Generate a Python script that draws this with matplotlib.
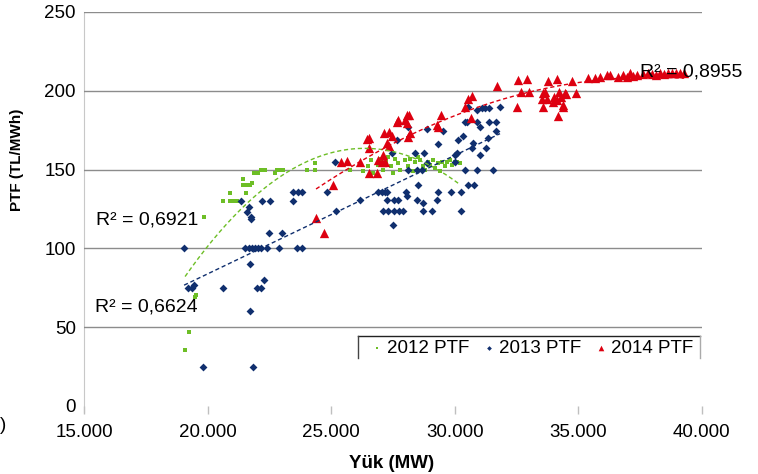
import numpy as np
import matplotlib
matplotlib.use("Agg")
import matplotlib.pyplot as plt
from matplotlib.lines import Line2D

plt.rcParams['font.family'] = ['Liberation Sans', 'DejaVu Sans']

# 2012 PTF (Yuk MW, PTF TL/MWh)
x_2012 = [19085, 19250, 19490, 19530, 19854, 20620, 20905, 20905, 21030, 21190,
          21430, 21430, 21590, 21715, 21800, 21550, 21880, 22040, 22160, 22320,
          22730, 22800, 22930, 23050, 24020, 24340, 24340, 25760,
          26300, 26500, 26600, 26700, 26900, 27000, 27100, 27200, 27400, 27500,
          27600, 27700, 27800, 28000, 28100, 28200, 28300, 28400, 28600, 28700,
          28800, 28900, 29000, 29100, 29200, 29300, 29500, 29600, 29700, 29800,
          29900, 30000, 30100, 30200, 27300, 28500, 29400]
y_2012 = [35.5, 47, 69, 70.5, 120, 130, 135, 130, 130, 130,
          144, 140, 140, 140, 141.5, 135, 148, 148, 150, 150,
          148, 150, 150, 150, 150, 154, 150, 150,
          149, 152, 156, 148, 153, 157, 150, 155, 152, 148,
          157, 154, 150, 156, 152, 157, 149, 155, 156, 152,
          150, 155, 153, 156, 151, 154, 155, 152, 155, 156,
          153, 155, 155, 154, 158, 158, 149]

# 2013 PTF
x_2013 = [19045, 19205, 19370, 19450, 19815, 20620, 21350, 21595, 21675, 21755,
          21755, 21510, 21675, 21795, 21915, 22040, 22160, 21715, 21715, 21835,
          22000, 22160, 22280, 22200, 22525, 22485, 22400, 22890, 23010, 23615,
          23820, 23455, 23655, 23820, 23455, 24830, 25150, 25190, 26165, 26890,
          27055, 27175, 27255, 27255, 27540, 27700, 27095, 27300, 27540, 27740,
          27905, 27500, 27460, 27660, 28105, 28025, 28065, 28105, 28470, 28670,
          28390, 28755, 28470, 28710, 28510, 28710, 29080, 28875, 28875, 29280,
          29320, 29320, 29520, 29845, 30250, 30005, 30090, 30005, 30250, 30130,
          30330, 30410, 30490, 30410, 30535, 30780, 30700, 30740, 30900, 30900,
          31100, 31220, 31380, 30535, 31020, 31020, 31260, 31340, 31380, 31545,
          31665, 31665, 31830, 30900]
y_2013 = [100, 75, 75, 77, 25, 75, 130, 123, 126, 120,
          118.6, 100, 100, 100, 100, 100, 100, 90, 60, 25,
          75, 75, 80, 130, 130, 110, 100, 100, 110, 100,
          100, 136, 136, 136, 130, 136, 155, 124, 131, 136,
          136, 136, 136, 131, 131, 131, 124, 124, 124, 124,
          124, 115, 160.5, 169, 177, 136, 133, 150, 150, 150,
          160.5, 160.5, 131, 129, 140, 124, 124, 154, 176, 131,
          136, 166, 174.5, 136, 136, 159, 160.5, 155, 124, 169,
          171, 180, 180, 150, 140, 140, 164, 167, 150, 188,
          189, 189, 189, 190, 159, 177, 164, 170, 180, 150,
          180, 174.5, 190, 180]

# 2014 PTF
x_2014 = [24385, 24710, 25070, 25395, 25640, 26165, 26450, 26530, 26530, 26530,
          26850, 26890, 27055, 27175, 27095, 27135, 27340, 27460, 27255, 27340,
          27660, 27700, 27985, 28065, 28145, 28065, 28185, 28105, 29280, 29320,
          29440, 30410, 30655, 30535, 30700, 31705, 32555, 32920, 32680, 33000,
          32515, 33650, 33525, 33730, 33565, 33770, 34130, 34740, 34010, 34295,
          34500, 34900, 33970, 34130, 34375, 34375, 34175, 33565, 34215, 34455,
          35390, 35670, 35870, 36155, 36300, 36600, 36800, 36965, 37100, 37210,
          37370, 37610, 37800, 37970, 38140, 38300, 38460, 38630, 38800, 38950,
          39110, 39270]
y_2014 = [119, 110, 140, 155, 155.5, 155, 169.5, 170, 164, 148,
          148, 156, 155, 155, 159, 173, 174, 171, 167, 165,
          180, 181.5, 181.5, 184.6, 184.6, 179.5, 173, 170.7, 178, 177,
          184.6, 190, 183, 195, 197, 203, 207, 207.5, 199, 199,
          190, 199, 195, 195, 190, 206, 207.5, 206, 196, 196,
          198, 198.6, 193, 194, 191, 190, 184, 198.6, 199, 198.6,
          208, 208, 209, 210, 210, 209, 210, 209, 211, 209.4,
          210, 210.6, 211, 210.6, 210, 211, 210.5, 211.5, 211, 211.5,
          211, 211.5]

r2_labels = ['R² = 0,6921', 'R² = 0,6624', 'R² = 0,8955']
x_ticks = [15000, 20000, 25000, 30000, 35000, 40000]
x_tick_labels = ['15.000', '20.000', '25.000', '30.000', '35.000', '40.000']
y_ticks = [0, 50, 100, 150, 200, 250]

c_green = '#6DBE26'
c_blue = '#102F6E'
c_red = '#DD0010'

fig = plt.figure(figsize=(7.58, 4.74), dpi=100)
ax = fig.add_axes([0.111, 0.1435, 0.815, 0.8312])

s12 = ax.scatter(x_2012, y_2012, marker='s', s=8, color=c_green, linewidths=0, zorder=3, label='2012 PTF')
s13 = ax.scatter(x_2013, y_2013, marker='D', s=16, color=c_blue, linewidths=0, zorder=4, label='2013 PTF')
s14 = ax.scatter(x_2014, y_2014, marker='^', s=45, color=c_red, linewidths=0, zorder=5, label='2014 PTF')

# trend lines fitted from the points (Excel style)
for xs, ys, deg, col in [(x_2012, y_2012, 2, c_green), (x_2013, y_2013, 1, c_blue), (x_2014, y_2014, 2, c_red)]:
    p = np.polyfit(xs, ys, deg)
    xx = np.linspace(min(xs), max(xs), 200)
    ax.plot(xx, np.polyval(p, xx), color=col, linewidth=1, linestyle=(0, (3, 2)), zorder=6)

ax.text(15485, 118, r2_labels[0], fontsize=14, va='center', ha='left', zorder=7)
ax.text(15445, 63, r2_labels[1], fontsize=14, va='center', ha='left', zorder=7)
ax.text(37490, 212, r2_labels[2], fontsize=14, va='center', ha='left', zorder=7)

ax.set_xlim(15000, 40000)
ax.set_ylim(0, 250)
ax.set_xticks(x_ticks)
ax.set_xticklabels(x_tick_labels)
ax.set_yticks(y_ticks)
ax.tick_params(axis='x', direction='out', length=6, color='#BFBFBF', width=1, labelsize=13.5, pad=7)
ax.tick_params(axis='y', length=0, labelsize=13.5, pad=6)

ax.yaxis.grid(True, color='#8C8C8C', linewidth=1)
ax.yaxis.get_gridlines()[0].set_visible(False)
ax.set_axisbelow(True)
for side in ['top', 'right', 'bottom']:
    ax.spines[side].set_visible(False)
ax.spines['left'].set_color('#C8C8C8')
ax.spines['left'].set_bounds(-4, 250)
ax.spines['left'].set_zorder(0)

ax.set_xlabel('Yük (MW)', fontsize=13.5, fontweight='bold')
ax.xaxis.set_label_coords(0.498, -0.125)
ax.set_ylabel('PTF (TL/MWh)', fontsize=11, fontweight='bold')
ax.yaxis.set_label_coords(-0.097, 0.624)

leg = ax.legend(handles=[s12, s13, s14], ncol=3, frameon=False, loc='center left',
                bbox_to_anchor=(0.45, 0.147), borderpad=0, handlelength=0.6,
                handletextpad=0.25, columnspacing=0.72, markerscale=0.6, fontsize=13.5)

# partial legend frame (top and sides only)
ax.add_line(Line2D([0.4434, 0.9968], [0.178, 0.178], transform=ax.transAxes, color='#222222', linewidth=1, clip_on=False))
ax.add_line(Line2D([0.4434, 0.4434], [0.178, 0.122], transform=ax.transAxes, color='#444444', linewidth=1, clip_on=False))
ax.add_line(Line2D([0.9968, 0.9968], [0.178, 0.122], transform=ax.transAxes, color='#AAAAAA', linewidth=1, clip_on=False))

fig.text(0.0, 1 - 425 / 474, ')', fontsize=13.5, va='center', ha='left')

fig.savefig('out.png', dpi=100)
